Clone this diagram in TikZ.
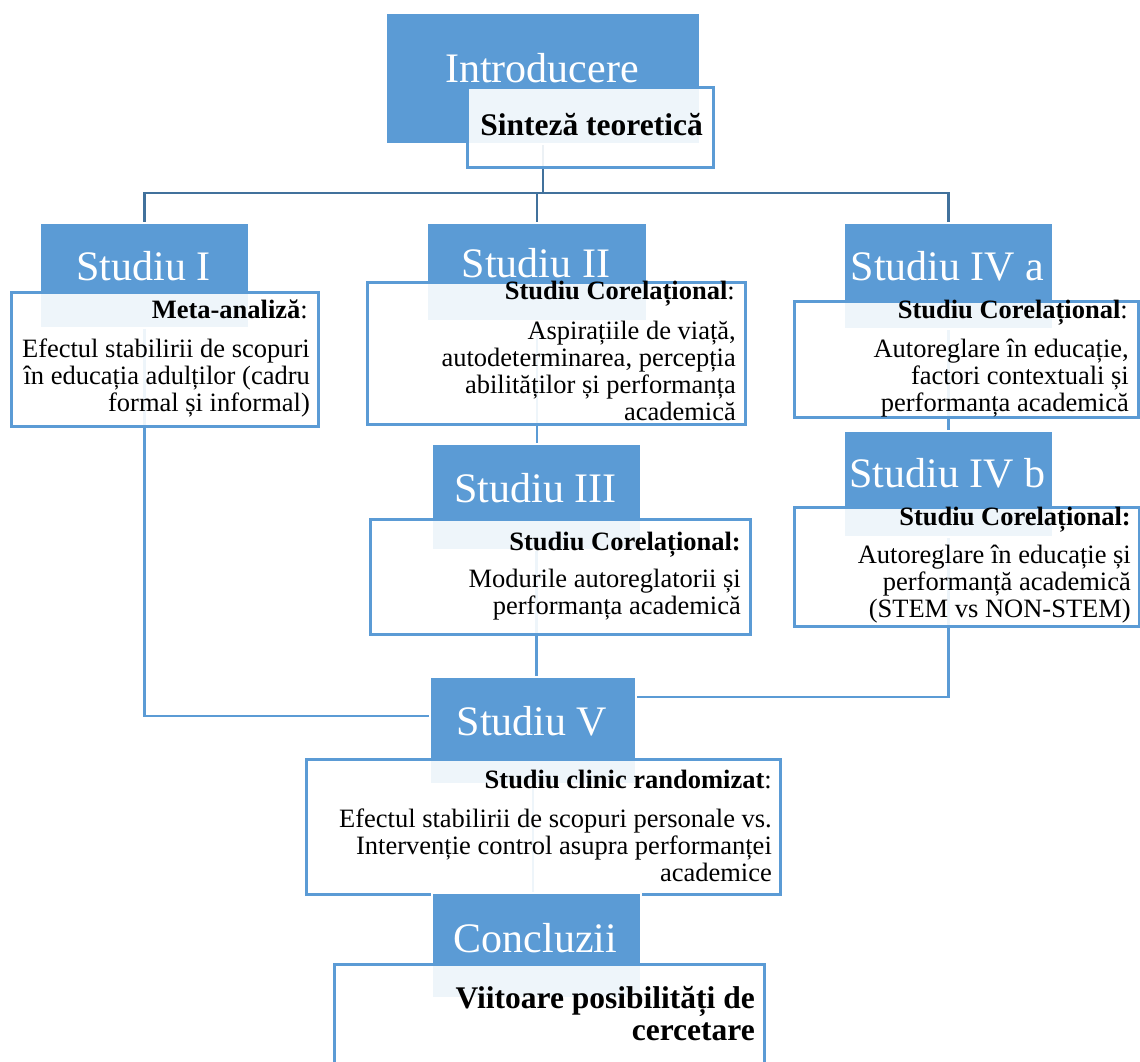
\documentclass[tikz,border=0pt]{standalone}
\usepackage{fontspec}
\setmainfont{Liberation Serif}
\usetikzlibrary{positioning}
\definecolor{hblue}{HTML}{5B9BD5}
\definecolor{tblue}{HTML}{41719C}
\pgfdeclarelayer{bg}
\pgfsetlayers{bg,main}
\newcommand\bstrut{\rule{0pt}{20pt}}
\newcommand\tstrut{\rule{0pt}{24pt}}
\tikzset{
  hdr/.style={rectangle, fill=hblue, draw=white, line width=1.5pt, inner sep=0pt, anchor=north west},
  bx/.style={rectangle, fill=white, fill opacity=0.9, draw=hblue, draw opacity=1, line width=2.5pt, inner sep=0pt, anchor=north west},
  htxt/.style={text=white, font=\fontsize{42}{48}\selectfont, anchor=base, inner sep=0pt},
  ttl/.style={font=\fontsize{26.5}{27}\selectfont, anchor=base east, inner sep=0pt},
  bigttl/.style={font=\bfseries\fontsize{31.5}{32}\selectfont, align=right, anchor=north east, inner sep=0pt},
  bdy/.style={font=\fontsize{26.5}{27}\selectfont, align=right, anchor=north east, inner sep=0pt},
  tree/.style={draw=tblue, line width=2.5pt},
  link/.style={draw=hblue, line width=2.5pt}
}
\begin{document}
\begin{tikzpicture}[x=1pt,y=-1pt]
\useasboundingbox (0,0) rectangle (1140,1061);
\clip (0,0) rectangle (1140,1061);
% Introducere
\node[hdr, minimum width=314pt, minimum height=131pt] (hIntro) at (385,12) {};
\node[htxt] (tIntro) at (542,82) {Introducere};
\node[bx, minimum width=246pt, minimum height=80pt] (bIntro) at (466,86) {};
\node[bigttl, anchor=base east] (sIntro) at (703,135) {Sinteză teoretică};
% Studiu I
\node[hdr, minimum width=209pt, minimum height=105pt] (hI) at (39,222) {};
\node[htxt] (tI) at (143.5,280) {Studiu I};
\node[bx, minimum width=307pt, minimum height=134pt] (bI) at (10,291) {};
\node[ttl] (sI) at (308,318) {\textbf{Meta-analiză}:};
\node[bdy] (dI) at (310,337) {\bstrut Efectul stabilirii de scopuri\\în educația adulților (cadru\\formal și informal)};
% Studiu II
\node[hdr, minimum width=220pt, minimum height=98pt] (hII) at (426,222) {};
\node[htxt] (tII) at (536,277) {Studiu II};
\node[bx, minimum width=378pt, minimum height=142pt] (bII) at (366,281) {};
\node[ttl] (sII) at (735,299) {\textbf{Studiu Corelațional}:};
\node[bdy] (dII) at (736,319) {\bstrut Aspirațiile de viață,\\autodeterminarea, percepția\\abilităților și performanța\\academică};
% Studiu III
\node[hdr, minimum width=209pt, minimum height=106pt] (hIII) at (431,443) {};
\node[htxt] (tIII) at (535.5,502) {Studiu III};
\node[bx, minimum width=380pt, minimum height=115pt] (bIII) at (369,518) {};
\node[ttl] (sIII) at (741,550) {\textbf{Studiu Corelațional:}};
\node[bdy] (dIII) at (741,567) {\bstrut Modurile autoreglatorii și\\performanța academică};
% Studiu IV a
\node[hdr, minimum width=209pt, minimum height=106pt] (hIVa) at (843,222) {};
\node[htxt] (tIVa) at (947.5,280) {Studiu IV a};
\node[bx, minimum width=344pt, minimum height=116pt] (bIVa) at (793,300) {};
\node[ttl] (sIVa) at (1128,318) {\textbf{Studiu Corelațional}:};
\node[bdy] (dIVa) at (1129,337) {\bstrut Autoreglare în educație,\\factori contextuali și\\performanța academică};
% Studiu IV b
\node[hdr, minimum width=209pt, minimum height=106pt] (hIVb) at (843,430) {};
\node[htxt] (tIVb) at (947.5,487) {Studiu IV b};
\node[bx, minimum width=345pt, minimum height=119pt] (bIVb) at (793,506) {};
\node[ttl] (sIVb) at (1131,525) {\textbf{Studiu Corelațional:}};
\node[bdy] (dIVb) at (1131,543) {\bstrut Autoreglare în educație și\\performanță academică\\(STEM vs NON-STEM)};
% Studiu V
\node[hdr, minimum width=206pt, minimum height=107pt] (hV) at (429,676) {};
\node[htxt] (tV) at (532,735) {Studiu V};
\node[bx, minimum width=474pt, minimum height=135pt] (bV) at (305,758) {};
\node[ttl] (sV) at (772,788) {\textbf{Studiu clinic randomizat}:};
\node[bdy] (dV) at (772,807) {\bstrut Efectul stabilirii de scopuri personale vs.\\Intervenție control asupra performanței\\academice};
% Concluzii
\node[hdr, minimum width=209pt, minimum height=105pt] (hC) at (431,892) {};
\node[htxt] (tC) at (535.5,952) {Concluzii};
\node[bx, minimum width=430pt, minimum height=130pt] (bC) at (333,963) {};
\node[bigttl] (sC) at (755,984) {\tstrut Viitoare posibilități de\\cercetare};
% connectors
\begin{pgfonlayer}{bg}
\coordinate (j) at (543,193);
\draw[tree] (hIntro.south) -- (hIntro.south |- j);
\draw[tree] (hI.north) -- (hI.north |- j) -- (hIVa.north |- j) -- (hIVa.north);
\draw[tree] (hII.north) -- (hII.north |- j);
\draw[link] (hI.south) |- ([yshift=-40pt]hV.north west);
\draw[link] (hII.south) -- (hII.south |- hIII.north);
\draw[link] (hIII.south) -- (hIII.south |- hV.north);
\draw[link] (hIVa.south) -- (hIVa.south |- hIVb.north);
\draw[link] (hIVb.south) |- ([yshift=-21pt]hV.north east);
\draw[link] (hV.south) -- (hV.south |- hC.north);
\end{pgfonlayer}
\end{tikzpicture}
\end{document}
